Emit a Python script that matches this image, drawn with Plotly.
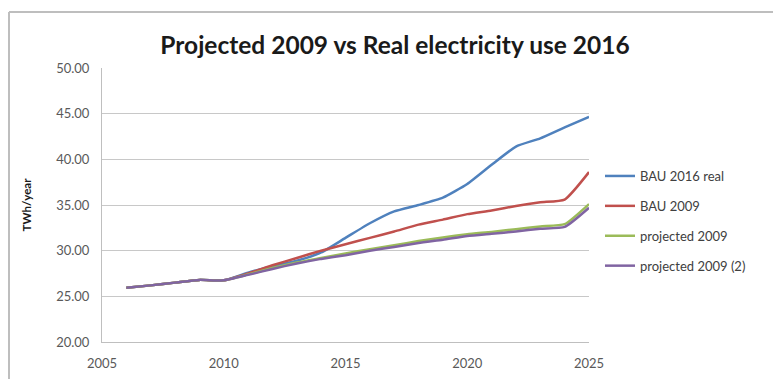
import plotly.graph_objects as go

# Electricity use, TWh/year
years = list(range(2006, 2026))

bau_2016_real = [25.95, 26.2, 26.5, 26.8, 26.75, 27.6, 28.3, 28.9, 29.8, 31.4,
                 33.0, 34.3, 35.0, 35.8, 37.3, 39.4, 41.4, 42.3, 43.5, 44.65]
bau_2009 = [25.95, 26.2, 26.5, 26.8, 26.75, 27.5, 28.4, 29.2, 30.0, 30.7,
            31.4, 32.1, 32.85, 33.4, 34.0, 34.4, 34.9, 35.3, 35.6, 38.6]
projected_2009 = [25.95, 26.2, 26.5, 26.8, 26.75, 27.4, 28.1, 28.7, 29.2, 29.7,
                  30.15, 30.6, 31.05, 31.45, 31.8, 32.05, 32.35, 32.65, 32.9, 35.1]
projected_2009_2 = [25.95, 26.2, 26.5, 26.8, 26.75, 27.35, 28.0, 28.6, 29.1, 29.5,
                    30.0, 30.4, 30.85, 31.2, 31.6, 31.85, 32.1, 32.4, 32.6, 34.7]

series_names = ["BAU 2016 real", "BAU 2009", "projected 2009", "projected 2009 (2)"]
series_values = [bau_2016_real, bau_2009, projected_2009, projected_2009_2]
colors = ["#4F81BD", "#C0504D", "#9BBB59", "#8064A2"]

y_ticks = [20, 25, 30, 35, 40, 45, 50]
y_tick_labels = ["20.00", "25.00", "30.00", "35.00", "40.00", "45.00", "50.00"]
x_ticks = [2005, 2010, 2015, 2020, 2025]

fig = go.Figure()
for name, vals, col in zip(series_names, series_values, colors):
    fig.add_trace(go.Scatter(
        x=years, y=vals, name=name, mode="lines",
        line=dict(color=col, width=2.5, shape="spline", smoothing=0.5),
        legendgroup=name,
    ))

W, H = 773, 379
ml, mr, mt, mb = 102, 184, 68, 37
pw, ph = W - ml - mr, H - mt - mb

def px_to_paper_x(px):
    return (px - ml) / pw

def px_to_paper_y(py):
    return (H - mb - py) / ph

frame_color = "#BEBEBE"

fig.update_layout(
    width=W, height=H,
    margin=dict(l=ml, r=mr, t=mt, b=mb),
    paper_bgcolor="white", plot_bgcolor="white",
    font=dict(family="Lato, 'Liberation Sans', sans-serif", color="#595959"),
    title=dict(
        text="<b>Projected 2009 vs Real electricity use 2016</b>",
        x=395 / W, xanchor="center", y=1 - 45 / H, yanchor="middle",
        font=dict(size=24.5, color="#1a1a1a", family="Lato, sans-serif"),
    ),
    xaxis=dict(
        range=[2005, 2025], tickvals=x_ticks, ticktext=[str(v) for v in x_ticks],
        showgrid=False, zeroline=False, showline=True, linecolor="#BFBFBF",
        linewidth=1, ticks="", ticklabelstandoff=9, automargin=False,
        tickfont=dict(size=13, color="#595959"),
    ),
    yaxis=dict(
        range=[20, 50], tickvals=y_ticks, ticktext=y_tick_labels,
        showgrid=True, gridcolor="#C8C8C8", gridwidth=1, zeroline=False,
        showline=True, linecolor="#BFBFBF", linewidth=1, ticks="",
        ticklabelstandoff=9, automargin=False,
        tickfont=dict(size=13, color="#595959"),
        title=dict(text="<b>TWh/year</b>", standoff=22,
                   font=dict(size=11.5, color="#1a1a1a")),
    ),
    legend=dict(
        x=px_to_paper_x(600), xanchor="left",
        y=px_to_paper_y(161), yanchor="top",
        font=dict(size=13, color="#404040"),
        bgcolor="rgba(0,0,0,0)", tracegroupgap=10,
        itemwidth=30,
    ),
    shapes=[
        dict(type="line", xref="paper", yref="paper",
             x0=px_to_paper_x(9), x1=px_to_paper_x(W + 10),
             y0=px_to_paper_y(12), y1=px_to_paper_y(12),
             line=dict(color=frame_color, width=2)),
        dict(type="line", xref="paper", yref="paper",
             x0=px_to_paper_x(9), x1=px_to_paper_x(9),
             y0=px_to_paper_y(12), y1=px_to_paper_y(H + 10),
             line=dict(color=frame_color, width=2)),
    ],
)

fig.write_html("out.html")
